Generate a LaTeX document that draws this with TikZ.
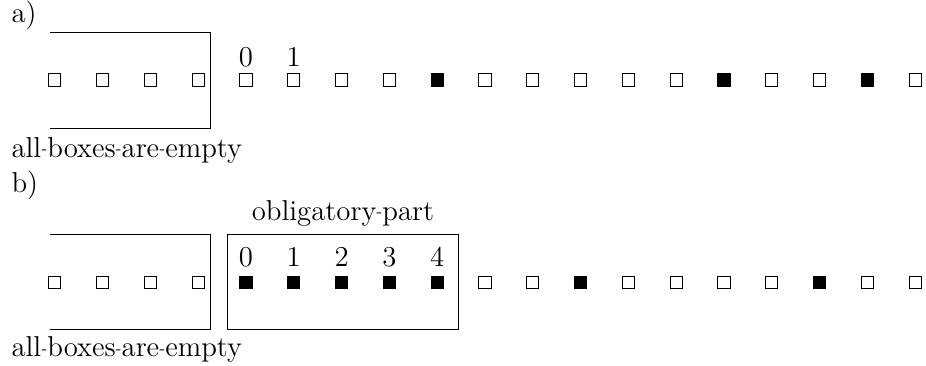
\documentclass[tikz,border=0pt]{standalone}
\newcommand{\hyph}{\raisebox{.3ex}{\fontsize{6}{7}\selectfont -}}
\begin{document}
\begin{tikzpicture}[
	every node/.style={font=\fontsize{12}{14}\selectfont},
	cell/.style={draw, thin, minimum size=0.18cm, inner sep=0pt},
	txt/.style={inner sep=0pt, anchor=base west},
	num/.style={inner sep=0pt, anchor=base}]
	\useasboundingbox (-3.602,1.1715) rectangle (9.958,-4.174);
	
	% a)
	\node[txt] (tagA) at (-3.44,0.849) {a)};
	\foreach \i in {-4,...,14}
		\node[cell] (a\i) at (0.7*\i,0) {};
	\foreach \i in {4,10,13}
		\fill (a\i.south west) rectangle (a\i.north east);
	\foreach \i in {0,1}
		\node[num] (na\i) at (0.7*\i,0.205) {\i};
	\draw[thin] (-2.87,0.703) -- (-0.527,0.703) -- (-0.527,-0.703) -- (-2.87,-0.703);
	\node[txt] (emptyA) at (-3.44,-1.128) {all\hyph boxes\hyph are\hyph empty};
	
	% b)
	\node[txt] (tagB) at (-3.44,-1.64) {b)};
	\foreach \i in {-4,...,14}
		\node[cell] (b\i) at (0.7*\i,-2.97) {};
	\foreach \i in {0,1,2,3,4,7,12}
		\fill (b\i.south west) rectangle (b\i.north east);
	\foreach \i in {0,...,4}
		\node[num] (nb\i) at (0.7*\i,-2.738) {\i};
	\draw[thin] (-2.87,-2.255) -- (-0.527,-2.255) -- (-0.527,-3.646) -- (-2.87,-3.646);
	\draw[thin] (-0.278,-2.255) rectangle (3.105,-3.646);
	\node[num] (oblig) at (1.42,-2.05) {obligatory\hyph part};
	\node[txt] (emptyB) at (-3.44,-4.056) {all\hyph boxes\hyph are\hyph empty};
	
\end{tikzpicture}
\end{document}
